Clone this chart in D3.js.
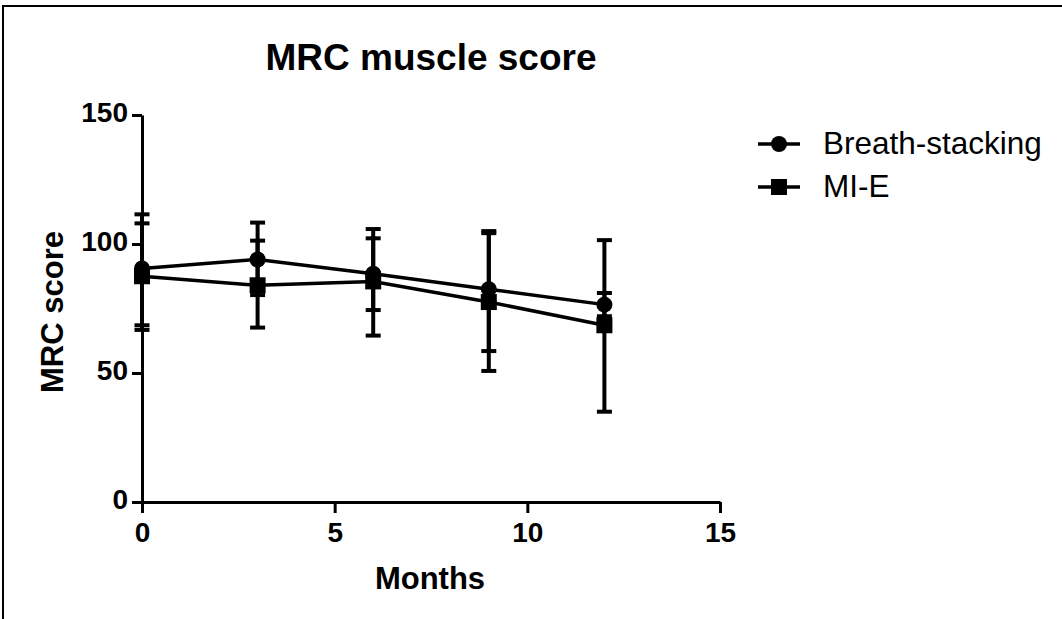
<!DOCTYPE html>
<html>
<head>
<meta charset="utf-8">
<script src="https://cdn.jsdelivr.net/npm/d3@7"></script>
<style>
  body { margin: 0; background: #fff; }
  svg { display: block; font-family: "Liberation Sans", Arial, sans-serif; }
</style>
</head>
<body>
<div id="chart"></div>
<script>
// values
const months = [0, 3, 6, 9, 12]
const breathMean = [90.5, 94, 88.5, 82.5, 76.5]
const breathUpper = [111.5, 108.3, 102.2, 105, 81]
const breathLower = [68.5, 80.2, 74.4, 58.5, 72]
const mieMean = [87.5, 84, 85.5, 77.5, 68.5]
const mieUpper = [108, 101.3, 105.8, 104.2, 101.5]
const mieLower = [66.7, 67.6, 64.5, 50.8, 35]
const xTicks = [0, 5, 10, 15]
const yTicks = [0, 50, 100, 150]
const seriesNames = ["Breath-stacking", "MI-E"]

const conf = {
    width: 1062,
    height: 619,
    left: 142,
    right: 720,
    top: 115,
    bottom: 502
}

const series = [
    {name: seriesNames[0], shape: "circle", mean: breathMean, upper: breathUpper, lower: breathLower},
    {name: seriesNames[1], shape: "square", mean: mieMean, upper: mieUpper, lower: mieLower}
]

let svg = d3.select("#chart").append("svg")
    .attr("width", conf.width)
    .attr("height", conf.height)

// outer frame (top and left edges only are visible)
svg.append("path")
    .attr("d", "M3," + conf.height + "V6H" + conf.width)
    .attr("fill", "none")
    .attr("stroke", "#000")
    .attr("stroke-width", 2)

let x = d3.scaleLinear().domain([0, 15]).range([conf.left, conf.right])
let y = d3.scaleLinear().domain([0, 150]).range([conf.bottom, conf.top])

let xAxis = d3.axisBottom(x).tickValues(xTicks).tickSize(11).tickSizeOuter(0).tickPadding(9)
let yAxis = d3.axisLeft(y).tickValues(yTicks).tickSize(10).tickSizeOuter(0).tickPadding(4)

let gx = svg.append("g")
    .attr("class", "x axis")
    .attr("transform", "translate(0," + conf.bottom + ")")
    .call(xAxis)
let gy = svg.append("g")
    .attr("class", "y axis")
    .attr("transform", "translate(" + conf.left + ",0)")
    .call(yAxis)

svg.selectAll(".axis path, .axis line")
    .attr("stroke", "#000")
    .attr("stroke-width", 3)
svg.selectAll(".axis text")
    .attr("fill", "#000")
    .attr("font-size", 28)
    .attr("font-weight", "bold")
    .attr("font-family", "Liberation Sans, Arial, sans-serif")
gy.selectAll("text").attr("dy", "0.22em")
gx.selectAll("text").attr("dy", "0.72em")

// titles
svg.append("text")
    .attr("x", 431).attr("y", 70)
    .attr("text-anchor", "middle")
    .attr("font-size", 37).attr("font-weight", "bold")
    .text("MRC muscle score")
svg.append("text")
    .attr("x", 430).attr("y", 589)
    .attr("text-anchor", "middle")
    .attr("font-size", 31).attr("font-weight", "bold")
    .text("Months")
svg.append("text")
    .attr("transform", "translate(63,312) rotate(-90)")
    .attr("text-anchor", "middle")
    .attr("font-size", 31).attr("font-weight", "bold")
    .text("MRC score")

function drawMarker(g, shape, cx, cy) {
    if (shape === "circle") {
        g.append("circle").attr("cx", cx).attr("cy", cy).attr("r", 8).attr("fill", "#000")
    } else {
        g.append("rect").attr("x", cx - 8).attr("y", cy - 8)
            .attr("width", 16).attr("height", 16).attr("fill", "#000")
    }
}

let plot = svg.append("g").attr("class", "plot")
let line = d3.line().x(d => x(d[0])).y(d => y(d[1]))

series.forEach(s => {
    let g = plot.append("g").attr("class", "series")
    // error bars
    months.forEach((m, i) => {
        g.append("line")
            .attr("x1", x(m)).attr("x2", x(m))
            .attr("y1", y(s.upper[i])).attr("y2", y(s.lower[i]))
            .attr("stroke", "#000").attr("stroke-width", 4)
        ;[s.upper[i], s.lower[i]].forEach(v => {
            g.append("line")
                .attr("x1", x(m) - 7.5).attr("x2", x(m) + 7.5)
                .attr("y1", y(v)).attr("y2", y(v))
                .attr("stroke", "#000").attr("stroke-width", 4)
        })
    })
    g.append("path")
        .datum(months.map((m, i) => [m, s.mean[i]]))
        .attr("d", line)
        .attr("fill", "none")
        .attr("stroke", "#000")
        .attr("stroke-width", 3.5)
    months.forEach((m, i) => drawMarker(g, s.shape, x(m), y(s.mean[i])))
})

// legend
let legend = svg.append("g").attr("class", "legend")
series.forEach((s, i) => {
    let ly = 144 + i * 43
    legend.append("line")
        .attr("x1", 758).attr("x2", 800)
        .attr("y1", ly).attr("y2", ly)
        .attr("stroke", "#000").attr("stroke-width", 3.5)
    drawMarker(legend, s.shape, 779, ly)
    legend.append("text")
        .attr("x", 823).attr("y", ly + 10)
        .attr("font-size", 31.5)
        .text(s.name)
})
</script>
</body>
</html>
